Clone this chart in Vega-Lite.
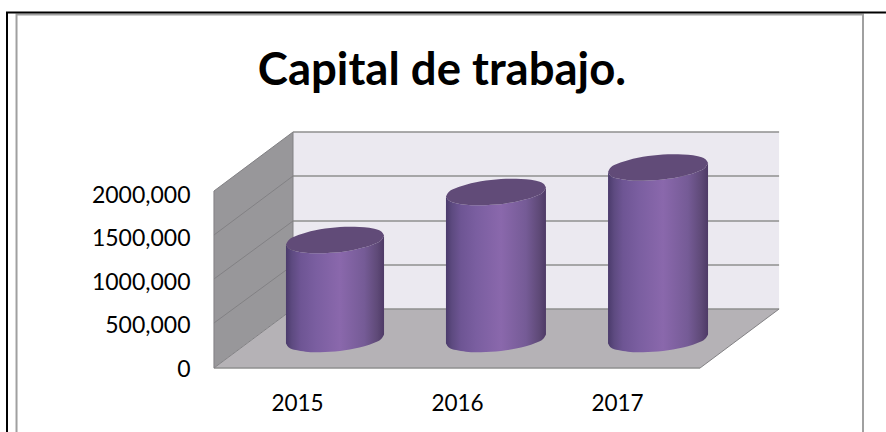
{"$schema":"https://vega.github.io/schema/vega-lite/v6.json","width":886,"height":432,"autosize":"none","padding":0,"background":"#ffffff","config":{"view":{"stroke":null}},
"datasets":{
"planes":[
{"part":"wall","x":2014.481,"y":2035.5,"y2":0},{"part":"wall","x":2014.975,"y":2714,"y2":678.5},
{"part":"back","x":2014.975,"y":2714,"y2":678.5},{"part":"back","x":2018.013,"y":2714,"y2":678.5},
{"part":"floor","x":2014.481,"y":0,"y2":0},{"part":"floor","x":2014.975,"y":678.5,"y2":0},{"part":"floor","x":2017.519,"y":678.5,"y2":0},{"part":"floor","x":2018.013,"y":678.5,"y2":678.5}],
"grid":[
{"g":"b0","x":2014.975,"y":678.5},{"g":"b0","x":2018.013,"y":678.5},
{"g":"b1","x":2014.975,"y":1184.5},{"g":"b1","x":2018.013,"y":1184.5},
{"g":"b2","x":2014.975,"y":1690.5},{"g":"b2","x":2018.013,"y":1690.5},
{"g":"b3","x":2014.975,"y":2208},{"g":"b3","x":2018.013,"y":2208},
{"g":"b4","x":2014.975,"y":2714},{"g":"b4","x":2018.013,"y":2714},
{"g":"f0","x":2014.481,"y":0},{"g":"f0","x":2017.519,"y":0},
{"g":"f1","x":2017.519,"y":0},{"g":"f1","x":2018.013,"y":678.5},
{"g":"w0","x":2014.481,"y":0},{"g":"w0","x":2014.975,"y":678.5},
{"g":"w1","x":2014.481,"y":517.5},{"g":"w1","x":2014.975,"y":1184.5},
{"g":"w2","x":2014.481,"y":1023.5},{"g":"w2","x":2014.975,"y":1690.5},
{"g":"w3","x":2014.481,"y":1529.5},{"g":"w3","x":2014.975,"y":2208},
{"g":"w4","x":2014.481,"y":2035.5},{"g":"w4","x":2014.975,"y":2714},
{"g":"w5","x":2014.481,"y":0},{"g":"w5","x":2014.481,"y":2035.5},
{"g":"w6","x":2014.975,"y":678.5},{"g":"w6","x":2014.975,"y":2714}],
"frame":[
{"g":"k1","x":2018.681,"y":4088},{"g":"k1","x":2013.1875,"y":4088},{"g":"k1","x":2013.1875,"y":-736}],
"frame2":[
{"g":"g1","x":2013.247,"y":-736},{"g":"g1","x":2013.247,"y":4065},{"g":"g1","x":2018.5375,"y":4065},{"g":"g1","x":2018.5375,"y":-736}],
"cyl":[
{"year":2015,"x":2014.931,"up":1420,"lo":1420,"base":282},{"year":2015,"x":2014.947,"up":1468,"lo":1378,"base":240},{"year":2015,"x":2014.993,"up":1517,"lo":1344,"base":206},{"year":2015,"x":2015.054,"up":1556,"lo":1326,"base":188},{"year":2015,"x":2015.115,"up":1583,"lo":1319,"base":181},{"year":2015,"x":2015.176,"up":1603,"lo":1321,"base":183},{"year":2015,"x":2015.238,"up":1616,"lo":1328,"base":190},{"year":2015,"x":2015.299,"up":1623,"lo":1341,"base":203},{"year":2015,"x":2015.36,"up":1625,"lo":1361,"base":223},{"year":2015,"x":2015.421,"up":1618,"lo":1388,"base":250},{"year":2015,"x":2015.483,"up":1600,"lo":1427,"base":289},{"year":2015,"x":2015.529,"up":1566,"lo":1476,"base":338},{"year":2015,"x":2015.544,"up":1524,"lo":1524,"base":386},
{"year":2016,"x":2015.931,"up":1972,"lo":1972,"base":282},{"year":2016,"x":2015.947,"up":2020,"lo":1930,"base":240},{"year":2016,"x":2015.994,"up":2069,"lo":1896,"base":206},{"year":2016,"x":2016.056,"up":2108,"lo":1878,"base":188},{"year":2016,"x":2016.119,"up":2135,"lo":1871,"base":181},{"year":2016,"x":2016.181,"up":2155,"lo":1873,"base":183},{"year":2016,"x":2016.244,"up":2168,"lo":1880,"base":190},{"year":2016,"x":2016.306,"up":2175,"lo":1893,"base":203},{"year":2016,"x":2016.369,"up":2177,"lo":1913,"base":223},{"year":2016,"x":2016.431,"up":2170,"lo":1940,"base":250},{"year":2016,"x":2016.494,"up":2152,"lo":1979,"base":289},{"year":2016,"x":2016.541,"up":2118,"lo":2028,"base":338},{"year":2016,"x":2016.556,"up":2076,"lo":2076,"base":386},
{"year":2017,"x":2016.944,"up":2254,"lo":2254,"base":282},{"year":2017,"x":2016.959,"up":2302,"lo":2212,"base":240},{"year":2017,"x":2017.006,"up":2351,"lo":2178,"base":206},{"year":2017,"x":2017.069,"up":2390,"lo":2160,"base":188},{"year":2017,"x":2017.131,"up":2417,"lo":2153,"base":181},{"year":2017,"x":2017.194,"up":2437,"lo":2155,"base":183},{"year":2017,"x":2017.256,"up":2450,"lo":2162,"base":190},{"year":2017,"x":2017.319,"up":2457,"lo":2175,"base":203},{"year":2017,"x":2017.381,"up":2459,"lo":2195,"base":223},{"year":2017,"x":2017.444,"up":2452,"lo":2222,"base":250},{"year":2017,"x":2017.506,"up":2434,"lo":2261,"base":289},{"year":2017,"x":2017.553,"up":2400,"lo":2310,"base":338},{"year":2017,"x":2017.569,"up":2358,"lo":2358,"base":386}],
"title":[{"x":2015.906,"y":3415,"t":"Capital de trabajo."}]
},
"layer":[
{"data":{"name":"planes"},"transform":[{"filter":"datum.part==='wall'"}],"mark":{"type":"area","color":"#98979a"},
"encoding":{
"x":{"field":"x","type":"quantitative","scale":{"domain":[2013.14375,2018.68125],"nice":false,"zero":false},
"axis":{"title":null,"values":[2015,2016,2017],"format":"d","domain":false,"ticks":false,"grid":false,"labelFont":"Lato","labelFontSize":22.5,"labelColor":"#000000","labelPadding":0,"offset":-40,"labelFlush":false}},
"y":{"field":"y","type":"quantitative","scale":{"domain":[-736,4232],"nice":false,"zero":false},
"axis":{"title":null,"values":[0,500,1000,1500,2000],"labelExpr":"datum.value===0?'0':format(datum.value,'d')+',000'","domain":false,"ticks":false,"grid":false,"labelFont":"Lato","labelFontSize":23,"labelColor":"#000000","labelPadding":0,"labelOffset":1,"offset":-190,"labelFlush":false}},
"y2":{"field":"y2"}}},
{"data":{"name":"planes"},"transform":[{"filter":"datum.part==='back'"}],"mark":{"type":"area","color":"#ebe9f0"},"encoding":{"x":{"field":"x","type":"quantitative"},"y":{"field":"y","type":"quantitative"},"y2":{"field":"y2"}}},
{"data":{"name":"planes"},"transform":[{"filter":"datum.part==='floor'"}],"mark":{"type":"area","color":"#b5b2b6"},"encoding":{"x":{"field":"x","type":"quantitative"},"y":{"field":"y","type":"quantitative"},"y2":{"field":"y2"}}},
{"data":{"name":"grid"},"transform":[{"filter":"datum.g[0]==='b'||datum.g==='f0'"}],"mark":{"type":"line","color":"#8f8f8f","strokeWidth":1.6},"encoding":{"x":{"field":"x","type":"quantitative"},"y":{"field":"y","type":"quantitative"},"detail":{"field":"g"}}},
{"data":{"name":"grid"},"transform":[{"filter":"datum.g[0]==='w'||datum.g==='f1'"}],"mark":{"type":"line","color":"#828184","strokeWidth":1},"encoding":{"x":{"field":"x","type":"quantitative"},"y":{"field":"y","type":"quantitative"},"detail":{"field":"g"}}},
{"data":{"name":"cyl"},"mark":{"type":"area","interpolate":"monotone","color":{"gradient":"linear","x1":0,"y1":0,"x2":1,"y2":0,"stops":[{"offset":0,"color":"#4a3a6b"},{"offset":0.06,"color":"#5d4a80"},{"offset":0.15,"color":"#6e5594"},{"offset":0.3,"color":"#7a5ea0"},{"offset":0.55,"color":"#8a68ac"},{"offset":0.8,"color":"#755b96"},{"offset":0.93,"color":"#5f4a78"},{"offset":1,"color":"#4e3a66"}]}},"encoding":{"x":{"field":"x","type":"quantitative"},"y":{"field":"lo","type":"quantitative"},"y2":{"field":"base"},"detail":{"field":"year"}}},
{"data":{"name":"cyl"},"mark":{"type":"area","interpolate":"monotone","color":"#614b78"},"encoding":{"x":{"field":"x","type":"quantitative"},"y":{"field":"up","type":"quantitative"},"y2":{"field":"lo"},"detail":{"field":"year"}}},
{"data":{"name":"frame2"},"mark":{"type":"line","color":"#a0a0a0","strokeWidth":2},"encoding":{"x":{"field":"x","type":"quantitative"},"y":{"field":"y","type":"quantitative"},"order":{"field":"o"}}},
{"data":{"name":"frame"},"mark":{"type":"line","color":"#000000","strokeWidth":2},"encoding":{"x":{"field":"x","type":"quantitative"},"y":{"field":"y","type":"quantitative"},"order":{"field":"o"}}},
{"data":{"name":"title"},"mark":{"type":"text","font":"Lato","fontWeight":"bold","fontSize":45.5,"color":"#000000","align":"center","baseline":"middle"},"encoding":{"x":{"field":"x","type":"quantitative"},"y":{"field":"y","type":"quantitative"},"text":{"field":"t"}}}
]}
